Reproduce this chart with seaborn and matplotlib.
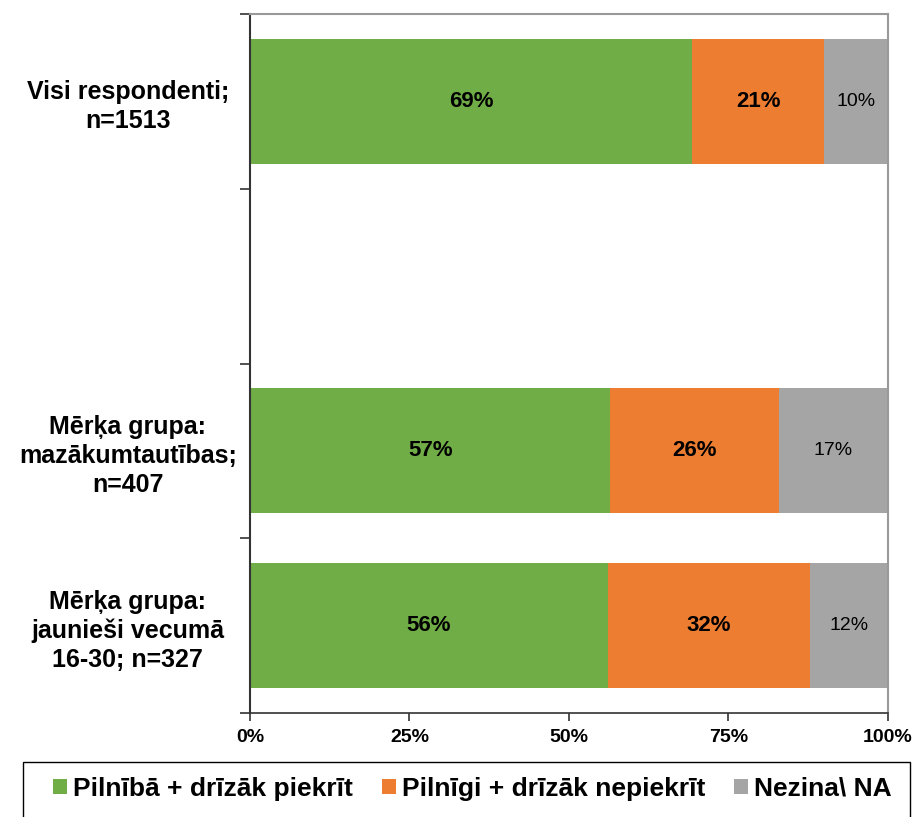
import numpy as np
import pandas as pd
import matplotlib.pyplot as plt
from matplotlib.patches import Rectangle
import seaborn as sns

# Dati no attēla (procenti)
grupas = ['Visi respondenti;\nn=1513', ' ',
          'Mērķa grupa:\nmazākumtautības;\nn=407',
          'Mērķa grupa:\njaunieši vecumā\n16-30; n=327']
piekrit = [69.3, 0, 56.5, 56.1]
nepiekrit = [20.8, 0, 26.4, 31.8]
nezina = [9.9, 0, 17.1, 12.1]
etiketes_piekrit = ['69%', '', '57%', '56%']
etiketes_nepiekrit = ['21%', '', '26%', '32%']
etiketes_nezina = ['10%', '', '17%', '12%']

serijas = ['Pilnībā + drīzāk piekrīt', 'Pilnīgi + drīzāk nepiekrīt', 'Nezina\\ NA']
krasas = ['#70AD47', '#ED7D31', '#A5A5A5']

df = pd.DataFrame({'grupa': grupas, 'p': piekrit, 'n': nepiekrit, 'x': nezina})
df['c1'] = df['p']
df['c2'] = df['p'] + df['n']
df['c3'] = df['p'] + df['n'] + df['x']

sns.set_style('white', {'text.color': 'black', 'xtick.color': 'black',
                        'ytick.color': 'black', 'axes.labelcolor': 'black'})
plt.rcParams['font.family'] = ['Liberation Sans', 'DejaVu Sans']

fig = plt.figure(figsize=(9.16, 8.17), dpi=100)
ax = fig.add_axes([0.273, 0.127, 0.696, 0.856])

# sakrauti stabiņi: no lielākās kumulatīvās vērtības uz mazāko
for col, krasa, nos in zip(['c3', 'c2', 'c1'], krasas[::-1], serijas[::-1]):
    sns.barplot(data=df, y='grupa', x=col, color=krasa, orient='h',
                width=0.715, order=grupas, ax=ax, label=nos, saturation=1,
                edgecolor='none')

# datu etiķetes
for i in range(len(grupas)):
    if piekrit[i] == 0:
        continue
    ax.text(piekrit[i] / 2, i, etiketes_piekrit[i], ha='center', va='center',
            fontsize=16, fontweight='bold', color='black')
    ax.text(piekrit[i] + nepiekrit[i] / 2, i, etiketes_nepiekrit[i], ha='center',
            va='center', fontsize=16, fontweight='bold', color='black')
    ax.text(piekrit[i] + nepiekrit[i] + nezina[i] / 2, i, etiketes_nezina[i],
            ha='center', va='center', fontsize=14, color='black')

ax.set_xlim(0, 100)
ax.set_ylim(3.5, -0.5)
ax.set_xticks([0, 25, 50, 75, 100])
ax.set_xticklabels(['0%', '25%', '50%', '75%', '100%'], fontsize=14, fontweight='bold')
ax.set_yticks(np.arange(len(grupas)))
ax.set_yticklabels(grupas, fontsize=18, fontweight='bold', ha='center', linespacing=1.25)
ax.tick_params(axis='y', length=0, pad=88)
ax.set_yticks(np.arange(-0.5, len(grupas)), minor=True)
ax.tick_params(axis='y', which='minor', length=7, width=1.2, color='#333333', direction='out', left=True)
ax.tick_params(axis='x', length=6, width=1.2, color='#333333', direction='out', bottom=True, pad=5)
ax.set_xlabel('')
ax.set_ylabel('')

for s in ['top', 'right']:
    ax.spines[s].set_color('#999999')
    ax.spines[s].set_linewidth(1.5)
ax.spines['left'].set_color('#333333')
ax.spines['left'].set_linewidth(1.5)
ax.spines['bottom'].set_color('#333333')
ax.spines['bottom'].set_linewidth(1.2)

handles, labels = ax.get_legend_handles_labels()
ax.legend(handles[::-1], labels[::-1], loc='upper left', bbox_to_anchor=(53 / 916, 1 - 777 / 817),
          bbox_transform=fig.transFigure, ncol=3, frameon=False, borderpad=0,
          borderaxespad=0, handlelength=0.53, handleheight=0.46, handletextpad=0.23,
          columnspacing=1.1, prop={'size': 19, 'weight': 'bold'})

# legendas rāmis
fig.patches.append(Rectangle((23 / 916, -0.01), 887 / 916, 1 - 762 / 817 + 0.01,
                             transform=fig.transFigure, fill=False,
                             edgecolor='black', linewidth=1.0))

fig.savefig('out.png', dpi=100)
